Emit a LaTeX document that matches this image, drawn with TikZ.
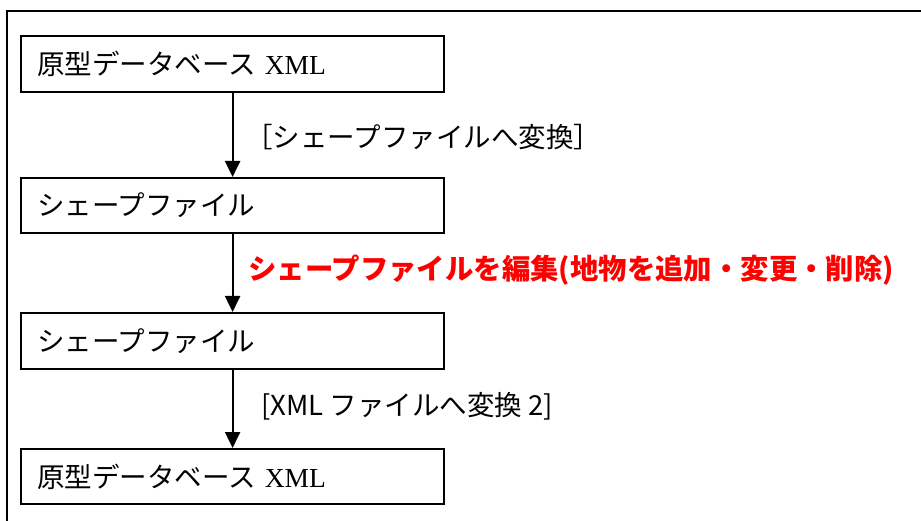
\documentclass[tikz,border=0pt]{standalone}
\usepackage{fontspec}
\setmainfont{Liberation Serif}
\newfontfamily\jp{Noto Sans CJK JP}
\usetikzlibrary{arrows.meta}
\tikzset{
  box/.style={draw=black, line width=2.2pt, anchor=north west, inner xsep=16pt, inner ysep=0pt,
    text width=391pt, minimum height=56pt, align=left,
    font=\fontsize{27.5}{33}\selectfont},
  lbl/.style={anchor=west, inner sep=0pt, font=\jp\fontsize{27.5}{33}\selectfont},
  flow/.style={line width=2.2pt, -{Triangle[width=15pt,length=16pt]}}
}
\begin{document}
\begin{tikzpicture}[x=1pt,y=-1pt]
\fill[white] (0,0) rectangle (921,521);
\useasboundingbox (0,0) rectangle (921,521);
\draw[line width=2.4pt] (7,530) -- (7,11) -- (930,11);
\node[box] (b1) at (20,35) {{\jp 原型データベース} XML};
\node[box, minimum height=55pt] (b2) at (20,177) {{\jp シェープファイル}};
\node[box] (b3) at (20,312) {{\jp シェープファイル}};
\node[box, minimum height=55pt] (b4) at (20,448) {{\jp 原型データベース} XML};
\draw[flow] (b1.south) -- (b2.north);
\draw[flow] (b2.south) -- (b3.north);
\draw[flow] (b3.south) -- (b4.north);
\node[lbl] (l1) at (245,137) {［シェープファイルへ変換］};
\node[lbl, text=red, font=\jp\bfseries\fontsize{28.4}{34}\selectfont] (l2) at (248,270) {シェープファイルを編集(地物を追加・変更・削除)};
\node[lbl] (l3) at (261,406) {[XML ファイルへ変換 2]};
\end{tikzpicture}
\end{document}
